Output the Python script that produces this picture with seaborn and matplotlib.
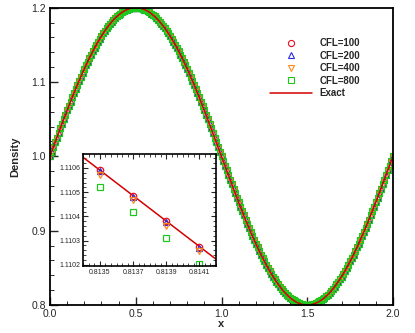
import matplotlib
matplotlib.use('Agg')
import matplotlib.pyplot as plt
import seaborn as sns
from matplotlib.ticker import MultipleLocator, AutoMinorLocator

# grid points (x) and density
x = [0.00, 0.01, 0.02, 0.03, 0.04, 0.05, 0.06, 0.07, 0.08, 0.09,
     0.10, 0.11, 0.12, 0.13, 0.14, 0.15, 0.16, 0.17, 0.18, 0.19,
     0.20, 0.21, 0.22, 0.23, 0.24, 0.25, 0.26, 0.27, 0.28, 0.29,
     0.30, 0.31, 0.32, 0.33, 0.34, 0.35, 0.36, 0.37, 0.38, 0.39,
     0.40, 0.41, 0.42, 0.43, 0.44, 0.45, 0.46, 0.47, 0.48, 0.49,
     0.50, 0.51, 0.52, 0.53, 0.54, 0.55, 0.56, 0.57, 0.58, 0.59,
     0.60, 0.61, 0.62, 0.63, 0.64, 0.65, 0.66, 0.67, 0.68, 0.69,
     0.70, 0.71, 0.72, 0.73, 0.74, 0.75, 0.76, 0.77, 0.78, 0.79,
     0.80, 0.81, 0.82, 0.83, 0.84, 0.85, 0.86, 0.87, 0.88, 0.89,
     0.90, 0.91, 0.92, 0.93, 0.94, 0.95, 0.96, 0.97, 0.98, 0.99,
     1.00, 1.01, 1.02, 1.03, 1.04, 1.05, 1.06, 1.07, 1.08, 1.09,
     1.10, 1.11, 1.12, 1.13, 1.14, 1.15, 1.16, 1.17, 1.18, 1.19,
     1.20, 1.21, 1.22, 1.23, 1.24, 1.25, 1.26, 1.27, 1.28, 1.29,
     1.30, 1.31, 1.32, 1.33, 1.34, 1.35, 1.36, 1.37, 1.38, 1.39,
     1.40, 1.41, 1.42, 1.43, 1.44, 1.45, 1.46, 1.47, 1.48, 1.49,
     1.50, 1.51, 1.52, 1.53, 1.54, 1.55, 1.56, 1.57, 1.58, 1.59,
     1.60, 1.61, 1.62, 1.63, 1.64, 1.65, 1.66, 1.67, 1.68, 1.69,
     1.70, 1.71, 1.72, 1.73, 1.74, 1.75, 1.76, 1.77, 1.78, 1.79,
     1.80, 1.81, 1.82, 1.83, 1.84, 1.85, 1.86, 1.87, 1.88, 1.89,
     1.90, 1.91, 1.92, 1.93, 1.94, 1.95, 1.96, 1.97, 1.98, 1.99,
     2.00]

rho = [1.0000, 1.0063, 1.0126, 1.0188, 1.0251, 1.0313, 1.0375, 1.0436, 1.0497, 1.0558,
       1.0618, 1.0677, 1.0736, 1.0794, 1.0852, 1.0908, 1.0964, 1.1018, 1.1072, 1.1124,
       1.1176, 1.1226, 1.1275, 1.1323, 1.1369, 1.1414, 1.1458, 1.1500, 1.1541, 1.1580,
       1.1618, 1.1654, 1.1689, 1.1721, 1.1753, 1.1782, 1.1810, 1.1836, 1.1860, 1.1882,
       1.1902, 1.1921, 1.1937, 1.1952, 1.1965, 1.1975, 1.1984, 1.1991, 1.1996, 1.1999,
       1.2000,
       1.1999, 1.1996, 1.1991, 1.1984, 1.1975, 1.1965, 1.1952, 1.1937, 1.1921, 1.1902,
       1.1882, 1.1860, 1.1836, 1.1810, 1.1782, 1.1753, 1.1721, 1.1689, 1.1654, 1.1618,
       1.1580, 1.1541, 1.1500, 1.1458, 1.1414, 1.1369, 1.1323, 1.1275, 1.1226, 1.1176,
       1.1124, 1.1072, 1.1018, 1.0964, 1.0908, 1.0852, 1.0794, 1.0736, 1.0677, 1.0618,
       1.0558, 1.0497, 1.0436, 1.0375, 1.0313, 1.0251, 1.0188, 1.0126, 1.0063, 1.0000,
       0.9937, 0.9874, 0.9812, 0.9749, 0.9687, 0.9625, 0.9564, 0.9503, 0.9442,
       0.9382, 0.9323, 0.9264, 0.9206, 0.9148, 0.9092, 0.9036, 0.8982, 0.8928, 0.8876,
       0.8824, 0.8774, 0.8725, 0.8677, 0.8631, 0.8586, 0.8542, 0.8500, 0.8459, 0.8420,
       0.8382, 0.8346, 0.8311, 0.8279, 0.8247, 0.8218, 0.8190, 0.8164, 0.8140, 0.8118,
       0.8098, 0.8079, 0.8063, 0.8048, 0.8035, 0.8025, 0.8016, 0.8009, 0.8004, 0.8001,
       0.8000,
       0.8001, 0.8004, 0.8009, 0.8016, 0.8025, 0.8035, 0.8048, 0.8063, 0.8079, 0.8098,
       0.8118, 0.8140, 0.8164, 0.8190, 0.8218, 0.8247, 0.8279, 0.8311, 0.8346, 0.8382,
       0.8420, 0.8459, 0.8500, 0.8542, 0.8586, 0.8631, 0.8677, 0.8725, 0.8774, 0.8824,
       0.8876, 0.8928, 0.8982, 0.9036, 0.9092, 0.9148, 0.9206, 0.9264, 0.9323, 0.9382,
       0.9442, 0.9503, 0.9564, 0.9625, 0.9687, 0.9749, 0.9812, 0.9874, 0.9937, 1.0000]

# inset (zoomed) values
x_zoom = [0.8135, 0.8137, 0.8139, 0.8141]
rho_zoom = {
    'CFL=100': [1.110592, 1.110485, 1.110381, 1.110275],
    'CFL=200': [1.110588, 1.110481, 1.110377, 1.110271],
    'CFL=400': [1.110572, 1.110466, 1.110362, 1.110257],
    'CFL=800': [1.110523, 1.110417, 1.110311, 1.110205],
}
x_exact_zoom = [0.8134, 0.8142]
rho_exact_zoom = [1.110643, 1.110224]

labels = ['CFL=100', 'CFL=200', 'CFL=400', 'CFL=800']
markers = ['o', '^', 'v', 's']
colors = ['#e8101e', '#2a2ae0', '#ff8a1c', '#1ec81e']
line_color = '#d40000'

sns.set_style('ticks')
plt.rcParams['font.family'] = ['Liberation Sans', 'DejaVu Sans']

fig = plt.figure(figsize=(4.15, 3.33), dpi=100)
ax = fig.add_axes([0.1205, 0.084, 0.8265, 0.893])

# all CFL runs coincide with the exact curve at this scale
for lab, m, c in zip(labels, markers, colors):
    sns.lineplot(x=x, y=rho, ax=ax, linestyle='none', marker=m, markersize=3.7,
                 markerfacecolor='none', markeredgecolor=c, markeredgewidth=0.8,
                 label=lab)
sns.lineplot(x=x, y=rho, ax=ax, color=line_color, linewidth=1.1, label='Exact')

ax.set_xlim(0, 2)
ax.set_ylim(0.8, 1.2)
ax.xaxis.set_major_locator(MultipleLocator(0.5))
ax.xaxis.set_minor_locator(MultipleLocator(0.1))
ax.yaxis.set_major_locator(MultipleLocator(0.1))
ax.yaxis.set_minor_locator(MultipleLocator(0.02))
ax.tick_params(which='major', direction='in', length=6, width=1.0, labelsize=7.5, pad=3)
ax.tick_params(which='minor', direction='in', length=3, width=0.7)
for s in ax.spines.values():
    s.set_linewidth(1.3)
    s.set_color('black')
ax.set_xlabel('x', fontsize=8, fontweight='bold', labelpad=0)
ax.set_ylabel('Density', fontsize=8, fontweight='bold', labelpad=8)

ax.legend(loc='upper left', bbox_to_anchor=(0.641, 0.897), frameon=False,
          handlelength=4.3, handletextpad=0.8, labelspacing=0.25,
          borderpad=0, borderaxespad=0, markerscale=1.2,
          prop={'weight': 'bold', 'size': 7})

# inset
axin = fig.add_axes([0.201, 0.201, 0.319, 0.336])
sns.lineplot(x=x_exact_zoom, y=rho_exact_zoom, ax=axin, color=line_color, linewidth=1.1)
for lab, m, c in zip(labels, markers, colors):
    sns.lineplot(x=x_zoom, y=rho_zoom[lab], ax=axin, linestyle='none', marker=m,
                 markersize=4.6, markerfacecolor='none', markeredgecolor=c,
                 markeredgewidth=0.9)
axin.set_xlim(0.8134, 0.8142)
axin.set_ylim(1.110195, 1.110657)
axin.set_xticks([0.8135, 0.8137, 0.8139, 0.8141])
axin.set_xticklabels(['0.8135', '0.8137', '0.8139', '0.8141'])
axin.set_yticks([1.1102, 1.1103, 1.1104, 1.1105, 1.1106])
axin.set_yticklabels(['1.1102', '1.1103', '1.1104', '1.1105', '1.1106'])
axin.xaxis.set_minor_locator(AutoMinorLocator(6))
axin.yaxis.set_minor_locator(AutoMinorLocator(5))
axin.tick_params(which='major', direction='in', length=3.5, width=0.8, labelsize=5,
                 top=True, right=True, pad=2)
axin.tick_params(which='minor', direction='in', length=2, width=0.6, top=True, right=True)
for s in axin.spines.values():
    s.set_linewidth(1.2)
    s.set_color('black')
axin.set_xlabel('')
axin.set_ylabel('')

fig.savefig('out.png', dpi=100)
